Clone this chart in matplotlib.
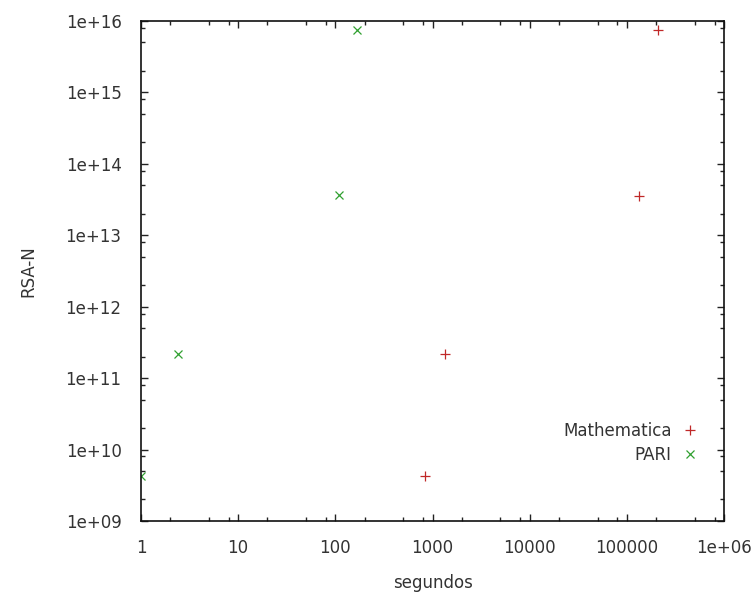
import matplotlib
matplotlib.use("Agg")
import matplotlib.pyplot as plt
from matplotlib.ticker import LogLocator, FixedLocator, NullFormatter

# tiempos (segundos) y RSA-N
math_t = [830, 1350, 133000, 207000]
math_n = [4.3e9, 2.15e11, 3.5e13, 7.5e15]
pari_t = [1, 2.4, 109, 166]
pari_n = [4.3e9, 2.15e11, 3.6e13, 7.5e15]

xticks = [1, 10, 100, 1000, 10000, 100000, 1e6]
xlabels = ['1', '10', '100', '1000', '10000', '100000', '1e+06']
yticks = [1e9, 1e10, 1e11, 1e12, 1e13, 1e14, 1e15, 1e16]
ylabels = ['1e+09', '1e+10', '1e+11', '1e+12', '1e+13', '1e+14', '1e+15', '1e+16']

plt.rcParams['font.family'] = 'DejaVu Sans'
fig = plt.figure(figsize=(7.56, 5.92), dpi=100)
ax = fig.add_axes([141/756, 1 - 521/592, (724 - 141)/756, (521 - 20.7)/592])

ax.plot(math_t, math_n, linestyle='none', marker='+', color='#c02828',
        markersize=7, markeredgewidth=0.9, label='Mathematica')
ax.plot(pari_t, pari_n, linestyle='none', marker='x', color='#30a030',
        markersize=5.5, markeredgewidth=0.9, label='PARI')

ax.set_xscale('log')
ax.set_yscale('log')
ax.set_xlim(1, 1e6)
ax.set_ylim(1e9, 1e16)

ax.xaxis.set_major_locator(FixedLocator(xticks))
ax.set_xticklabels(xlabels)
ax.yaxis.set_major_locator(FixedLocator(yticks))
ax.set_yticklabels(ylabels)
ax.xaxis.set_minor_locator(LogLocator(base=10, subs=(2, 5, 8)))
ax.yaxis.set_minor_locator(LogLocator(base=10, subs=(2, 5, 8)))
ax.xaxis.set_minor_formatter(NullFormatter())
ax.yaxis.set_minor_formatter(NullFormatter())

ax.tick_params(which='both', direction='in', top=True, right=True,
               labelsize=12, colors='#222222', labelcolor='#333333')
ax.tick_params(which='major', length=5, width=1)
ax.tick_params(which='minor', length=3, width=1)
ax.tick_params(axis='y', which='major', pad=14)
ax.tick_params(axis='x', which='major', pad=13)
for s in ax.spines.values():
    s.set_linewidth(1.2)
    s.set_color('#111111')

ax.set_xlabel('segundos', fontsize=12, color='#333333', labelpad=12)
ax.set_ylabel('RSA-N', fontsize=12, color='#333333', labelpad=20)

ax.legend(loc='lower right', bbox_to_anchor=(0.982, 0.084), frameon=False,
          markerfirst=False, fontsize=12, handlelength=1.0,
          handletextpad=0.6, labelspacing=0.35, labelcolor='#333333')

fig.savefig('out.png', dpi=100)
